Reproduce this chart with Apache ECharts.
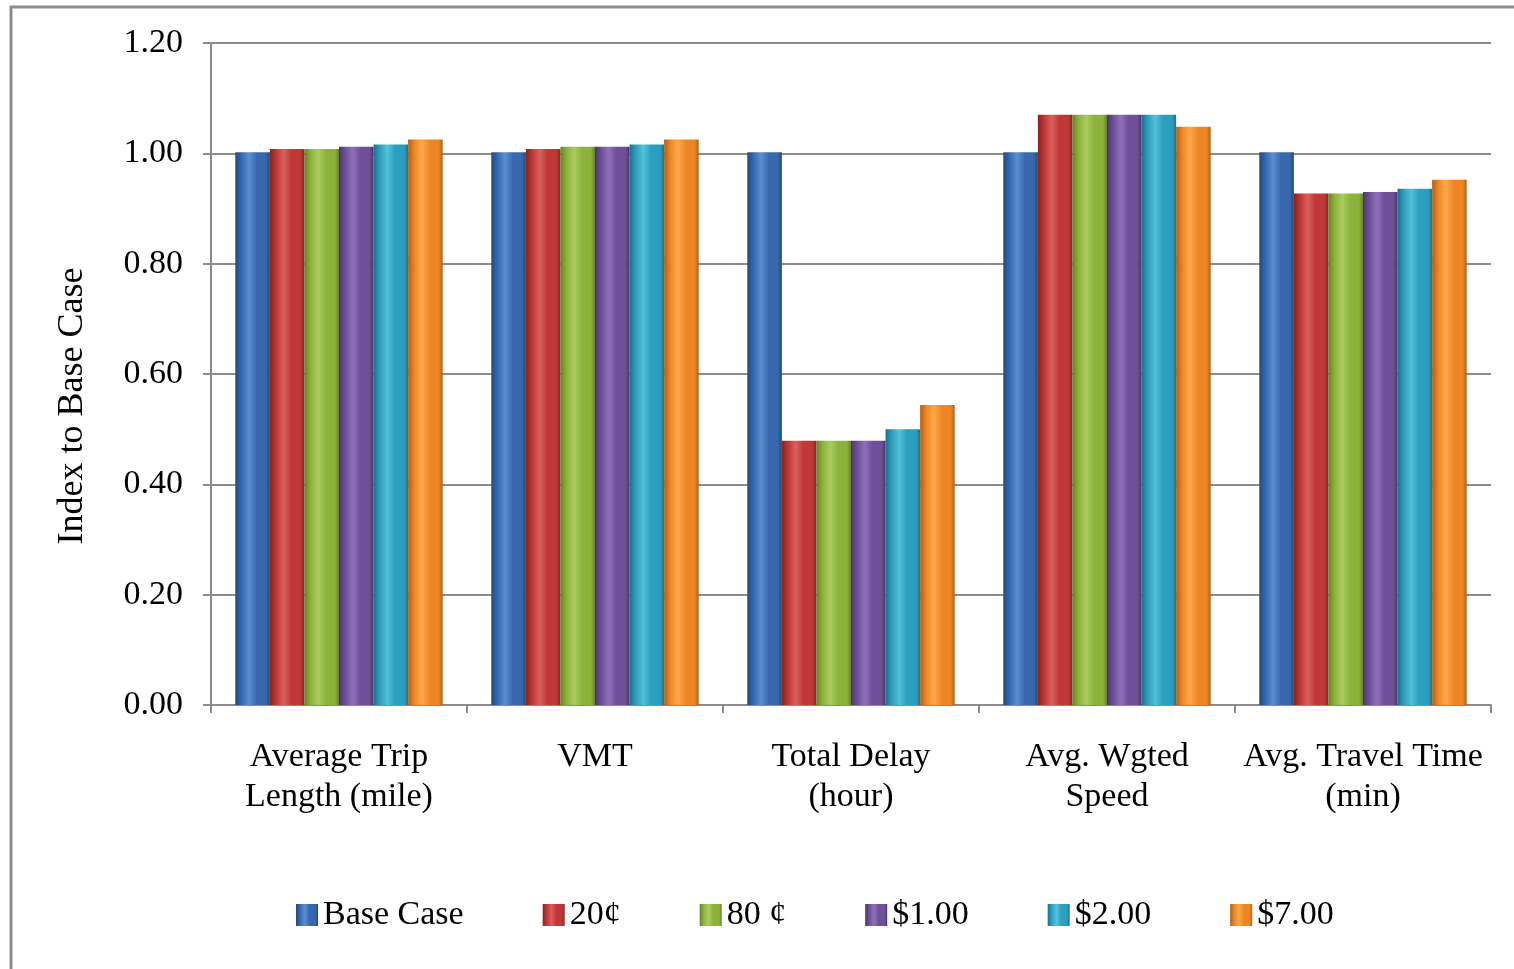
<!DOCTYPE html>
<html>
<head>
<meta charset="utf-8">
<title>Index to Base Case</title>
<script src="https://cdn.jsdelivr.net/npm/echarts@6/dist/echarts.min.js"></script>
<style>
    html, body { margin: 0; padding: 0; background: #fff; }
    #chart { width: 1514px; height: 969px; }
</style>
</head>
<body>
<div id="chart"></div>
<script>
const categories = ['Average Trip\nLength (mile)', 'VMT', 'Total Delay\n(hour)', 'Avg. Wgted\nSpeed', 'Avg. Travel Time\n(min)'];
const seriesNames = ['Base Case', '20¢', '80 ¢', '$1.00', '$2.00', '$7.00'];

const baseCase = [1.002, 1.002, 1.002, 1.002, 1.002];
const cents20 = [1.008, 1.008, 0.479, 1.070, 0.927];
const cents80 = [1.008, 1.012, 0.479, 1.070, 0.927];
const dollar1 = [1.012, 1.012, 0.479, 1.070, 0.930];
const dollar2 = [1.016, 1.016, 0.500, 1.070, 0.936];
const dollar7 = [1.025, 1.025, 0.544, 1.048, 0.952];

const yTicks = [0, 0.2, 0.4, 0.6, 0.8, 1.0, 1.2];

// [dark edge, main, highlight]
const palette = [
    ['#24487a', '#3768ad', '#5a8fd2'],
    ['#842523', '#bf3836', '#d9605d'],
    ['#64832a', '#8db23c', '#a9cc5e'],
    ['#4a3469', '#6f4f98', '#8e70b8'],
    ['#1c6f8a', '#2c9fbf', '#55c1dc'],
    ['#b05f18', '#ee8723', '#fba848']
];

function barColor(c) {
    return new echarts.graphic.LinearGradient(0, 0, 1, 0, [
        { offset: 0, color: c[0] },
        { offset: 0.18, color: c[1] },
        { offset: 0.4, color: c[2] },
        { offset: 0.62, color: c[1] },
        { offset: 0.88, color: c[1] },
        { offset: 1, color: c[0] }
    ]);
}

function getOption() {
    const values = [baseCase, cents20, cents80, dollar1, dollar2, dollar7];
    const font = "'Liberation Serif', 'Times New Roman', serif";
    const gray = '#8c8c8c';

    let series = seriesNames.map(function (name, i) {
        return {
            name: name,
            type: 'bar',
            barGap: 0,
            barCategoryGap: '19%',
            itemStyle: { color: barColor(palette[i]) },
            data: values[i]
        };
    });

    return {
        animation: false,
        textStyle: { fontFamily: font },
        grid: { left: 211, right: 23, top: 43, bottom: 264 },
        legend: {
            top: 893,
            left: 291,
            icon: 'rect',
            itemWidth: 22,
            itemHeight: 22,
            itemGap: 79,
            textStyle: { fontFamily: font, fontSize: 34, color: '#000' },
            data: seriesNames
        },
        xAxis: {
            type: 'category',
            data: categories,
            axisLine: { lineStyle: { color: gray, width: 2 } },
            axisTick: { show: true, length: 8, lineStyle: { color: gray, width: 2 } },
            axisLabel: {
                color: '#000',
                fontFamily: font,
                fontSize: 34,
                lineHeight: 40,
                margin: 32,
                interval: 0
            }
        },
        yAxis: {
            type: 'value',
            min: yTicks[0],
            max: yTicks[yTicks.length - 1],
            interval: 0.2,
            axisLine: { show: true, lineStyle: { color: gray, width: 2 } },
            axisTick: { show: true, length: 8, lineStyle: { color: gray, width: 2 } },
            splitLine: { lineStyle: { color: gray, width: 2 } },
            axisLabel: {
                color: '#000',
                fontFamily: font,
                fontSize: 34,
                margin: 28,
                formatter: function (v) { return v.toFixed(2); }
            }
        },
        graphic: [
            {
                type: 'rect',
                silent: true,
                shape: { x: 11, y: 7, width: 1600, height: 1000 },
                style: { fill: 'none', stroke: '#8c8c8c', lineWidth: 3 }
            },
            {
                type: 'text',
                silent: true,
                x: 73,
                y: 406,
                rotation: Math.PI / 2,
                style: {
                    text: 'Index to Base Case',
                    font: "36px 'Liberation Serif', 'Times New Roman', serif",
                    fill: '#000',
                    align: 'center',
                    verticalAlign: 'middle'
                }
            }
        ],
        series: series
    };
}

let myChart = echarts.init(document.getElementById('chart'));
myChart.setOption(getOption());
</script>
</body>
</html>
